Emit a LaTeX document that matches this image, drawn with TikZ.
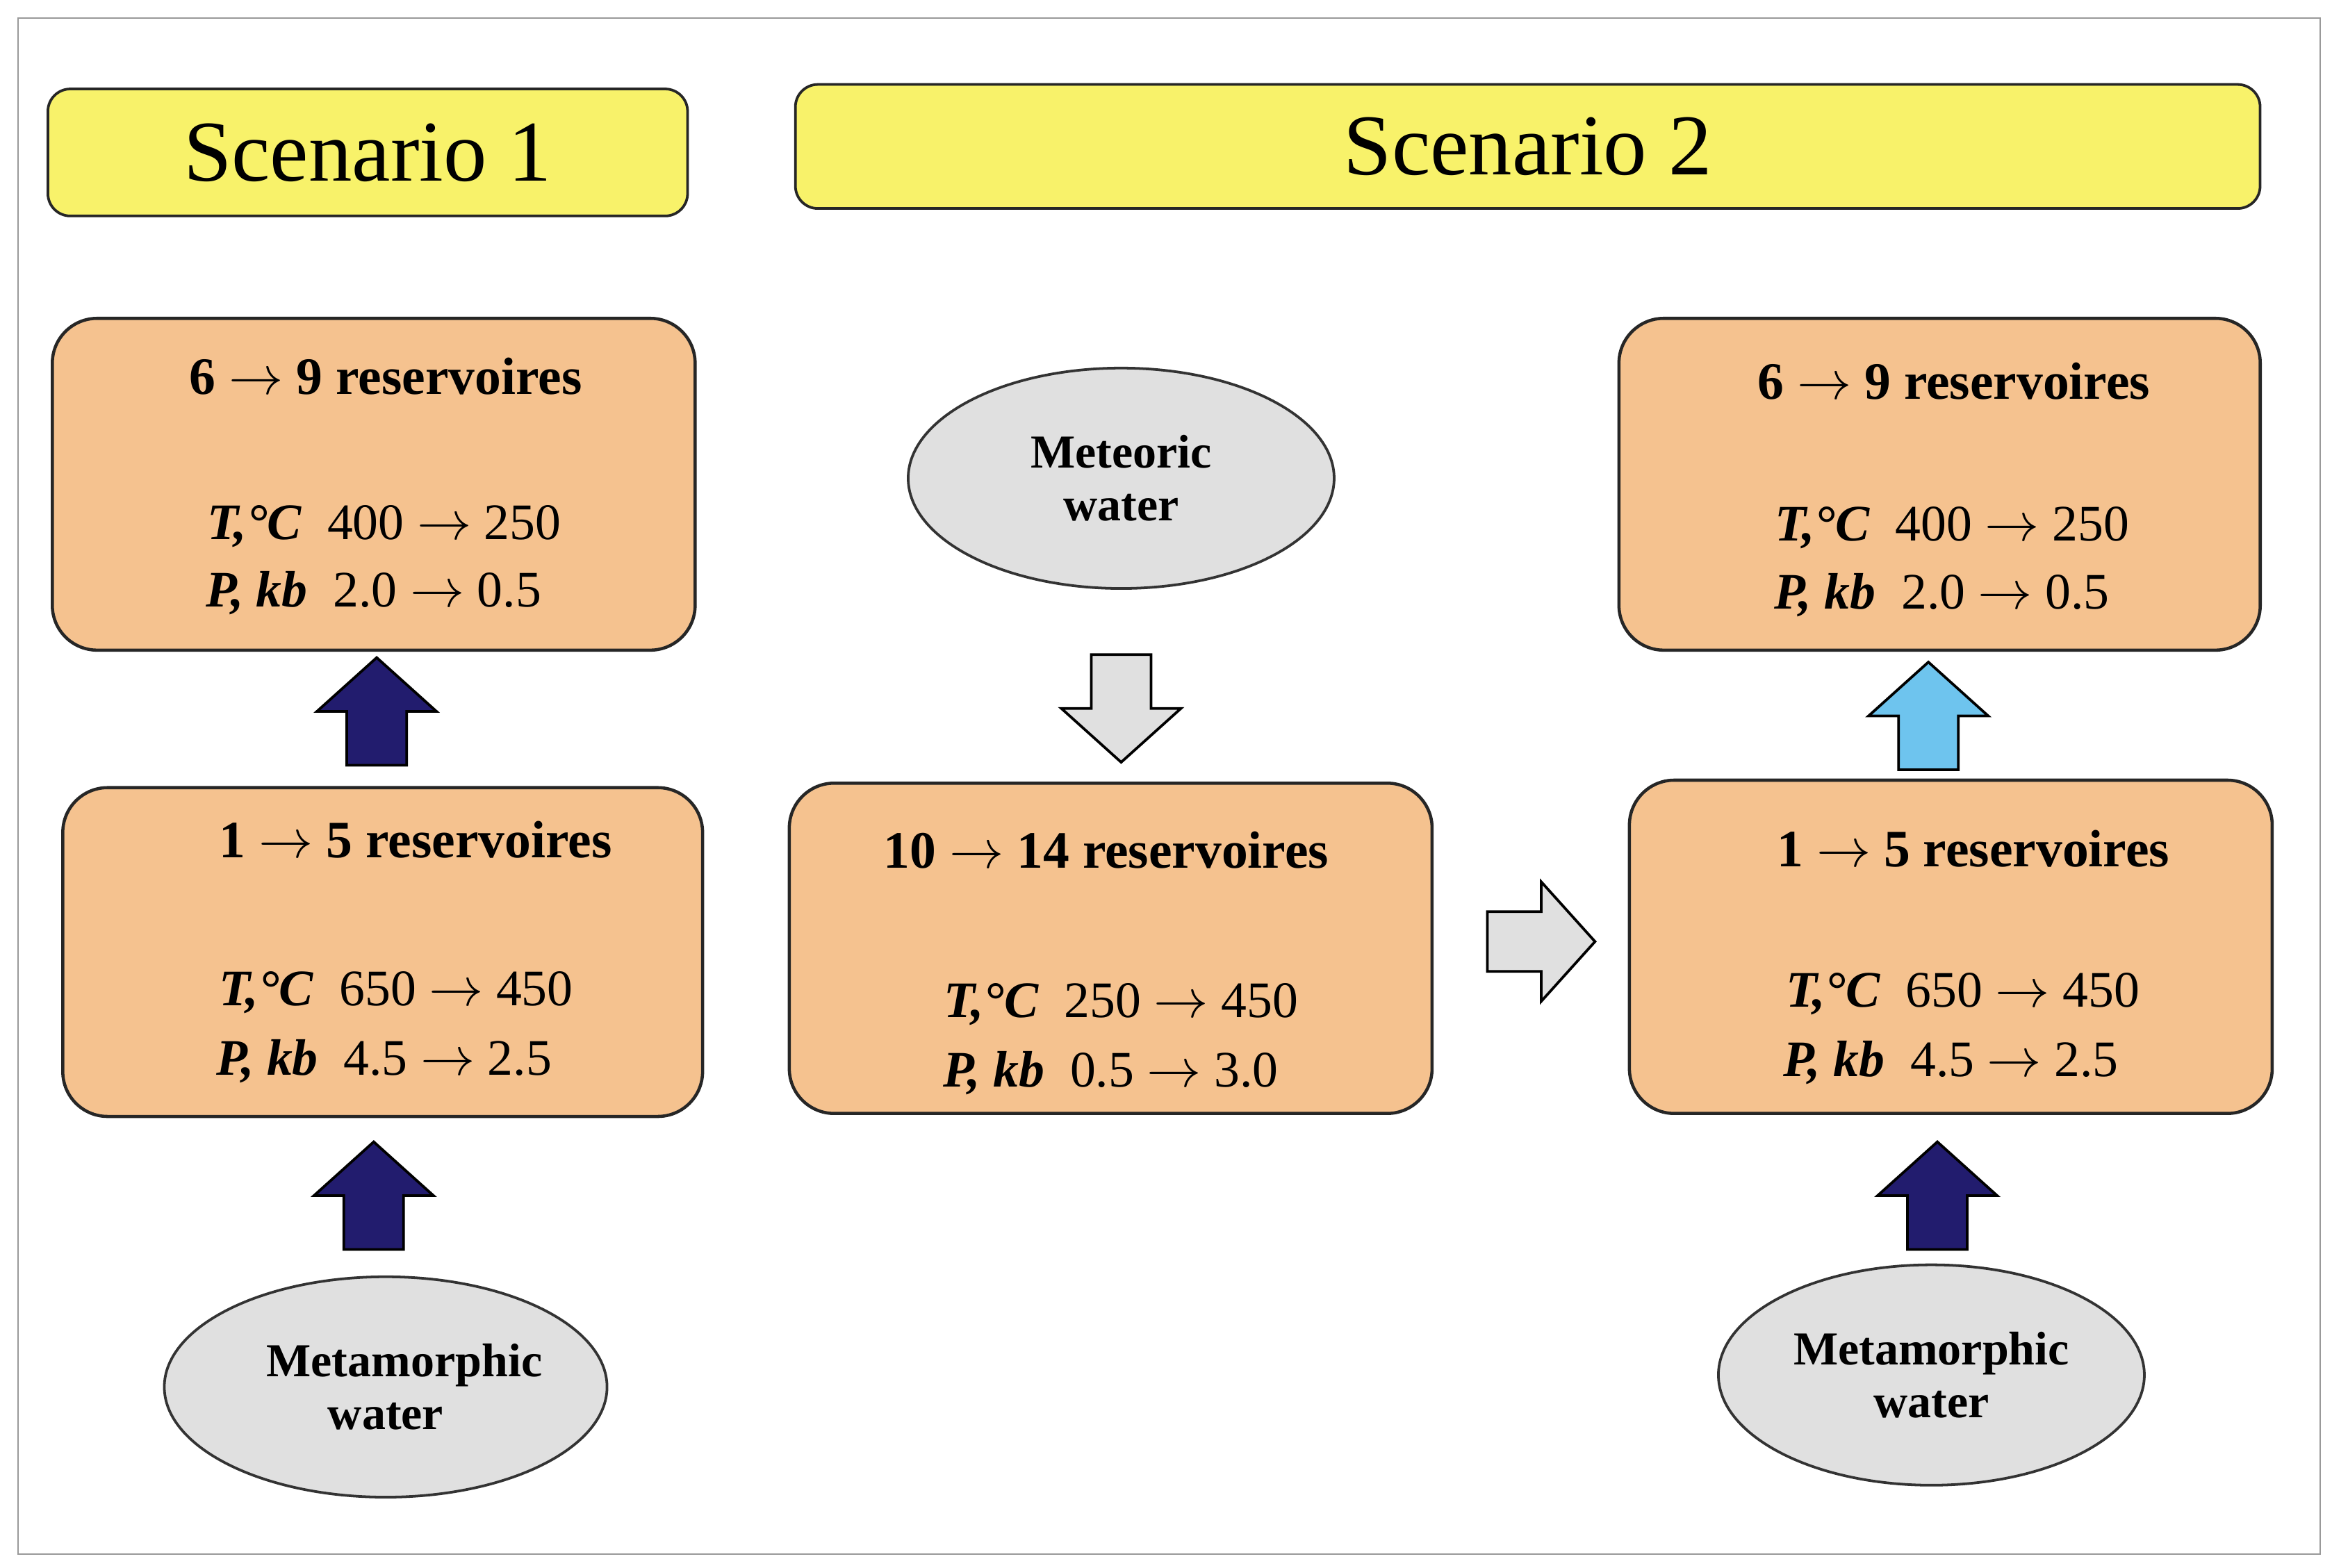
\documentclass[tikz,border=0pt]{standalone}
\usepackage{fontspec}
\setmainfont{Liberation Serif}
\usetikzlibrary{shapes.geometric}
\begin{document}
\begin{tikzpicture}[x=0.02cm,y=-0.02cm,
  box/.style={draw=black!85,line width=1.2pt,rounded corners=0.6cm},
  scen/.style={draw=black!85,line width=1pt,fill=scy,rounded corners=0.3cm},
  ell/.style={draw=black!80,line width=1pt,fill=black!12,ellipse,inner sep=0pt,minimum width=5.7cm,minimum height=2.95cm,align=center,font=\fontsize{18}{20}\selectfont\bfseries},
  ttl/.style={font=\fontsize{20}{23}\selectfont\bfseries},
  val/.style={font=\fontsize{19.5}{22}\selectfont},
  pics/barrow/.style={code={\draw[line width=1pt,fill=#1] (-20,0) -- (-20,-36) -- (-40,-36) -- (0,-72) -- (40,-36) -- (20,-36) -- (20,0) -- cycle;}}
]
\definecolor{boxor}{HTML}{F5C28F}
\definecolor{navy}{HTML}{221C6E}
\definecolor{sky}{HTML}{6EC4EE}
\definecolor{scy}{HTML}{F8F26A}
\useasboundingbox (0,0) rectangle (1560,1049);
\draw[black!40,line width=0.6pt] (12,12) rectangle (1552,1040);
\tikzset{box/.append style={fill=boxor}}
\node[scen,minimum width=8.56cm,minimum height=1.7cm,font=\fontsize{33}{38}\selectfont] (s1) at (246,102) {Scenario 1};
\node[scen,minimum width=19.6cm,minimum height=1.66cm,font=\fontsize{33}{38}\selectfont] (s2) at (1022,98) {Scenario 2};
% boxes
\draw[box] (35,213) rectangle (465,435);
\draw[box] (42,527) rectangle (470,747);
\draw[box] (528,524) rectangle (958,745);
\draw[box] (1083,213) rectangle (1512,435);
\draw[box] (1090,522) rectangle (1520,745);
\newcommand\tline[4]{\node[val] at (#1,#2) {\textbf{\textit{#3}}\ \ #4};}
\node[ttl] (a) at (258,252) {6 $\rightarrow$ 9 reservoires};
\tline{257}{352}{T,°C}{400 $\rightarrow$ 250}
\tline{250}{397}{P, kb}{2.0 $\rightarrow$ 0.5}
\node[ttl] (b) at (278,562) {1 $\rightarrow$ 5 reservoires};
\tline{265}{664}{T,°C}{650 $\rightarrow$ 450}
\tline{257}{710}{P, kb}{4.5 $\rightarrow$ 2.5}
\node[ttl] (c) at (740,569) {10 $\rightarrow$ 14 reservoires};
\tline{750}{672}{T,°C}{250 $\rightarrow$ 450}
\tline{743}{718}{P, kb}{0.5 $\rightarrow$ 3.0}
\node[ttl] (d) at (1307,255) {6 $\rightarrow$ 9 reservoires};
\tline{1306}{353}{T,°C}{400 $\rightarrow$ 250}
\tline{1299}{398}{P, kb}{2.0 $\rightarrow$ 0.5}
\node[ttl] (e) at (1320,568) {1 $\rightarrow$ 5 reservoires};
\tline{1313}{665}{T,°C}{650 $\rightarrow$ 450}
\tline{1305}{711}{P, kb}{4.5 $\rightarrow$ 2.5}
% ellipses
\node[ell] (met) at (750,320) {Meteoric\\water};
\node[ell] (mm1) at (258,928) {\hspace*{0.5cm}Metamorphic\\water};
\node[ell] (mm2) at (1292,920) {Metamorphic\\water};
% arrows
\pic at (252,512) {barrow=navy};
\pic at (250,836) {barrow=navy};
\pic at (1296,836) {barrow=navy};
\pic at (1290,515) {barrow=sky};
\pic[rotate=180] at (750,438) {barrow=black!12};
\pic[rotate=-90] at (995,630) {barrow=black!12};
\end{tikzpicture}
\end{document}
